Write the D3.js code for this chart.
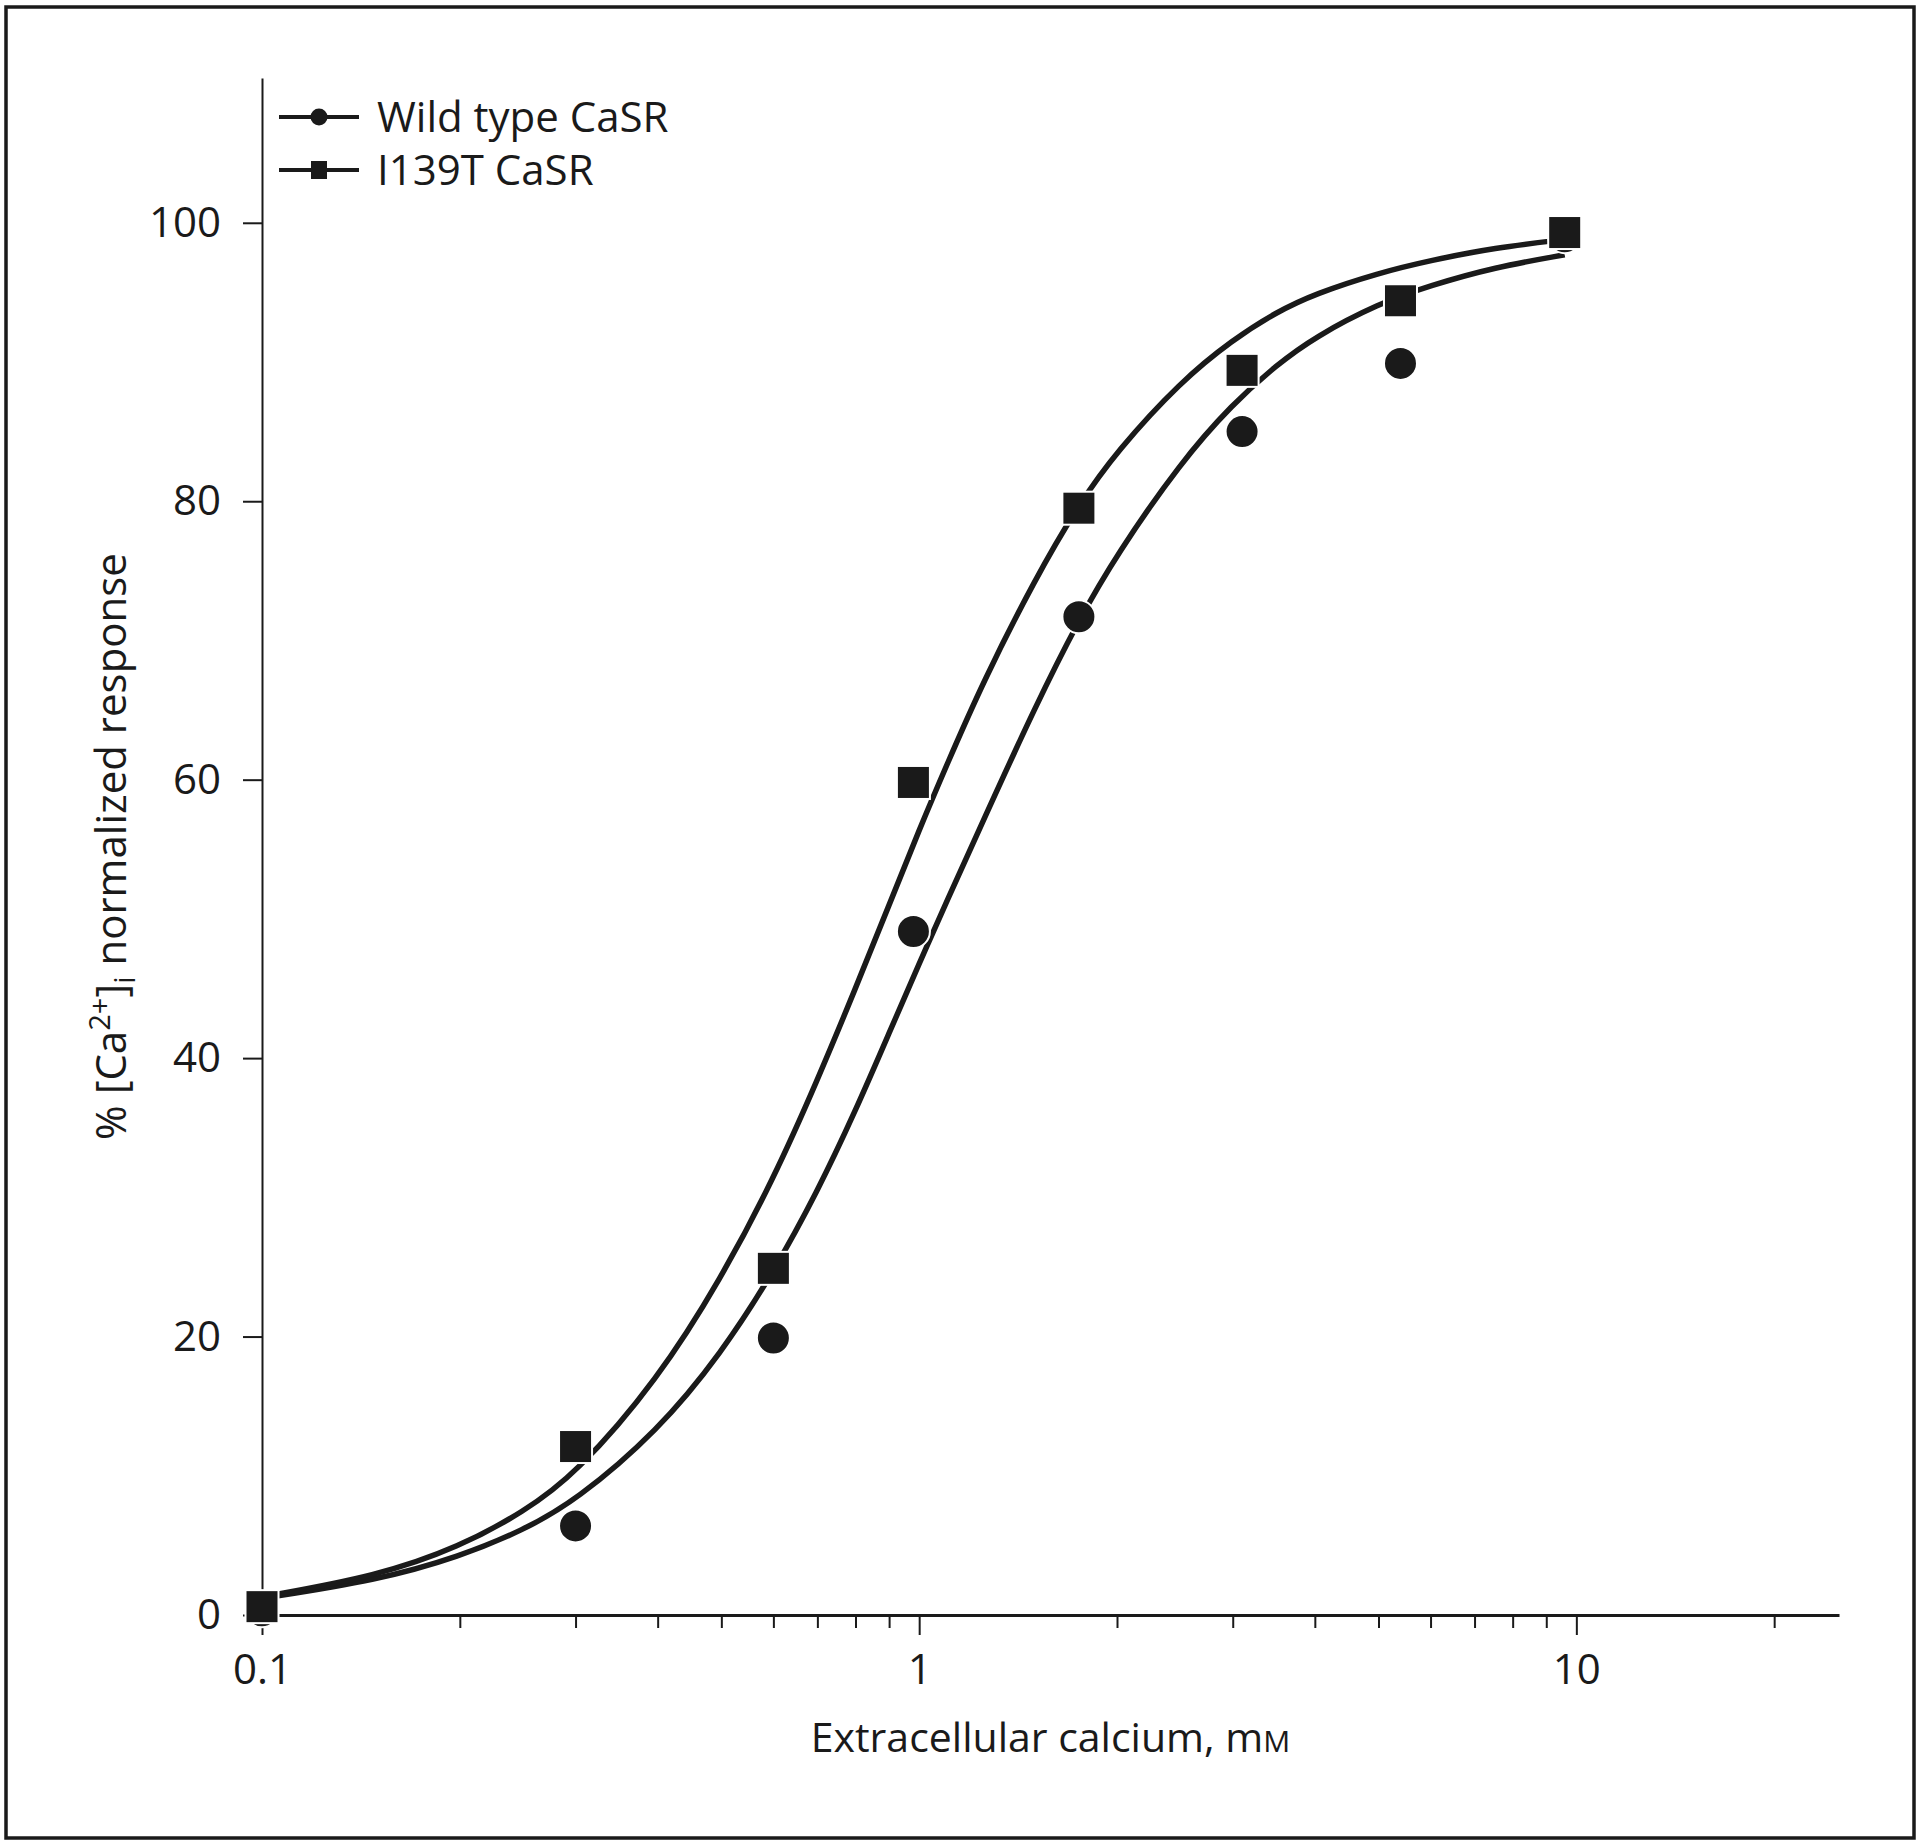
<!DOCTYPE html>
<html>
<head>
<meta charset="utf-8">
<script src="https://cdn.jsdelivr.net/npm/d3@7"></script>
<style>
  body { margin: 0; background: #ffffff; }
  text { font-family: "Open Sans", "DejaVu Sans", sans-serif; fill: #1a1a1a; }
</style>
</head>
<body>
<div id="chart"></div>
<script>
// Data
// Extracellular calcium (mM) where each point was measured
var wtDose = [0.1, 0.3, 0.6, 0.98, 1.75, 3.1, 5.4, 9.6];
var wtResponse = [0.3, 6.4, 19.9, 49.1, 71.7, 85.0, 89.9, 99.0];

var mutDose = [0.1, 0.3, 0.6, 0.98, 1.75, 3.1, 5.4, 9.6];
var mutResponse = [0.6, 12.1, 24.9, 59.8, 79.5, 89.4, 94.4, 99.3];

// Fitted curves
var wtCurveDose = [0.1, 0.15, 0.2, 0.25, 0.3, 0.4, 0.5, 0.6, 0.7, 0.8, 0.9, 1.0, 1.1, 1.25, 1.5, 1.75, 2.0, 2.5, 3.0, 3.5, 4.0, 5.0, 6.0, 7.5, 9.6];
var wtCurveResponse = [1.2, 2.5, 4.2, 6.1, 8.2, 13.2, 18.8, 24.6, 30.4, 36.2, 41.8, 46.8, 51.2, 57.0, 65.2, 71.5, 76.2, 82.8, 87.0, 89.8, 91.8, 94.2, 95.5, 96.8, 97.7];

var mutCurveDose = [0.1, 0.15, 0.2, 0.25, 0.3, 0.4, 0.5, 0.6, 0.7, 0.8, 0.9, 1.0, 1.1, 1.25, 1.5, 1.75, 2.0, 2.5, 3.0, 3.5, 4.0, 5.0, 6.0, 7.5, 9.6];
var mutCurveResponse = [1.3, 2.8, 4.9, 7.4, 10.1, 16.9, 24.2, 31.3, 38.4, 45.0, 51.0, 56.4, 61.0, 67.0, 74.4, 79.8, 83.6, 88.6, 91.6, 93.6, 94.9, 96.4, 97.3, 98.2, 98.8];

// Axis ticks
var xMajorTicks = [0.1, 1, 10];
var xMinorTicks = [0.2, 0.3, 0.4, 0.5, 0.6, 0.7, 0.8, 0.9, 2, 3, 4, 5, 6, 7, 8, 9, 20];
var yTicks = [0, 20, 40, 60, 80, 100];

var legendLabels = ["Wild type CaSR", "I139T CaSR"];

// Chart configuration
var width = 1920;
var height = 1848;
var ink = "#1a1a1a";
var fontSize = 42;

var plotLeft = 262;
var plotRight = 1839;
var plotTop = 78;
var plotBottom = 1615;

var svg = d3
  .select("#chart")
  .append("svg")
  .attr("width", width)
  .attr("height", height);

svg.append("rect")
  .attr("width", width)
  .attr("height", height)
  .attr("fill", "#ffffff");

// outer frame round the figure
svg.append("rect")
  .attr("x", 6)
  .attr("y", 7)
  .attr("width", 1908)
  .attr("height", 1831)
  .attr("fill", "none")
  .attr("stroke", ink)
  .attr("stroke-width", 3.5);

// Scales
var xScale = d3.scaleLog()
  .domain([0.1, 25.1])
  .range([plotLeft, plotRight]);

var yScale = d3.scaleLinear()
  .domain([0, 110.4])
  .range([plotBottom, plotTop]);

// X axis, major ticks with labels
var xAxis = d3.axisBottom(xScale)
  .tickValues(xMajorTicks)
  .tickSize(20)
  .tickSizeOuter(0)
  .tickPadding(19)
  .tickFormat(function(d) { return String(d); });

var gx = svg.append("g")
  .attr("class", "xAxis")
  .attr("transform", "translate(0," + plotBottom + ")")
  .call(xAxis);

gx.select(".domain").attr("stroke", ink).attr("stroke-width", 3);
gx.selectAll(".tick line").attr("stroke", ink).attr("stroke-width", 2);
gx.selectAll(".tick text").attr("font-size", fontSize).attr("fill", ink);

// minor ticks without labels
var xMinorAxis = d3.axisBottom(xScale)
  .tickValues(xMinorTicks)
  .tickSize(13)
  .tickFormat("");

var gxMinor = svg.append("g")
  .attr("transform", "translate(0," + plotBottom + ")")
  .call(xMinorAxis);
gxMinor.select(".domain").remove();
gxMinor.selectAll(".tick line").attr("stroke", ink).attr("stroke-width", 2);

// Y axis
var yAxis = d3.axisLeft(yScale)
  .tickValues(yTicks)
  .tickSize(19)
  .tickSizeOuter(0)
  .tickPadding(22);

var gy = svg.append("g")
  .attr("class", "yAxis")
  .attr("transform", "translate(" + plotLeft + ",0)")
  .call(yAxis);

gy.select(".domain").attr("stroke", ink).attr("stroke-width", 2);
gy.selectAll(".tick line").attr("stroke", ink).attr("stroke-width", 2);
gy.selectAll(".tick text").attr("font-size", fontSize).attr("fill", ink);

// Axis titles
var xTitle = svg.append("text")
  .attr("x", (plotLeft + plotRight) / 2)
  .attr("y", 1752)
  .attr("text-anchor", "middle")
  .attr("font-size", 41);
xTitle.append("tspan").text("Extracellular calcium, m");
xTitle.append("tspan").attr("font-size", 30).text("M");

var yTitle = svg.append("text")
  .attr("transform", "translate(126," + ((plotTop + plotBottom) / 2) + ")rotate(-90)")
  .attr("text-anchor", "middle")
  .attr("font-size", fontSize);
yTitle.append("tspan").text("% [Ca");
yTitle.append("tspan").attr("font-size", 29).attr("dy", -16).text("2+");
yTitle.append("tspan").attr("dy", 16).text("]");
yTitle.append("tspan").attr("font-size", 29).attr("dy", 9).text("i");
yTitle.append("tspan").attr("dy", -9).text(" normalized response");

// Fitted curves (basis spline smooths out reading noise)
var line = d3.line()
  .x(function(d) { return xScale(d[0]); })
  .y(function(d) { return yScale(d[1]); })
  .curve(d3.curveBasis);

var wtCurve = d3.zip(wtCurveDose, wtCurveResponse);
var mutCurve = d3.zip(mutCurveDose, mutCurveResponse);

svg.append("path")
  .datum(wtCurve)
  .attr("d", line)
  .attr("fill", "none")
  .attr("stroke", ink)
  .attr("stroke-width", 5.5);

svg.append("path")
  .datum(mutCurve)
  .attr("d", line)
  .attr("fill", "none")
  .attr("stroke", ink)
  .attr("stroke-width", 5.5);

// Data points
var wtPoints = d3.zip(wtDose, wtResponse);
var mutPoints = d3.zip(mutDose, mutResponse);

var circleRadius = 16.5;
var squareSide = 33;

svg.selectAll("circle.wt")
  .data(wtPoints)
  .enter()
  .append("circle")
  .attr("class", "wt")
  .attr("cx", function(d) { return xScale(d[0]); })
  .attr("cy", function(d) { return yScale(d[1]); })
  .attr("r", circleRadius)
  .attr("fill", ink)
  .attr("stroke", "#ffffff")
  .attr("stroke-width", 2);

svg.selectAll("rect.mut")
  .data(mutPoints)
  .enter()
  .append("rect")
  .attr("class", "mut")
  .attr("x", function(d) { return xScale(d[0]) - squareSide / 2; })
  .attr("y", function(d) { return yScale(d[1]) - squareSide / 2; })
  .attr("width", squareSide)
  .attr("height", squareSide)
  .attr("fill", ink)
  .attr("stroke", "#ffffff")
  .attr("stroke-width", 2);

// Legend
var legendRows = [117, 170];
var legend = svg.append("g").attr("class", "legend");

legendLabels.forEach(function(label, i) {
  var yRow = legendRows[i];
  legend.append("line")
    .attr("x1", 279)
    .attr("x2", 359)
    .attr("y1", yRow)
    .attr("y2", yRow)
    .attr("stroke", ink)
    .attr("stroke-width", 4);
  if (i === 0) {
    legend.append("circle")
      .attr("cx", 319)
      .attr("cy", yRow)
      .attr("r", 8.5)
      .attr("fill", ink);
  }
  else {
    legend.append("rect")
      .attr("x", 311)
      .attr("y", yRow - 9)
      .attr("width", 16)
      .attr("height", 18)
      .attr("fill", ink);
  }
  legend.append("text")
    .attr("x", 377)
    .attr("y", yRow)
    .attr("dy", "0.35em")
    .attr("font-size", fontSize)
    .text(label);
});
</script>
</body>
</html>
